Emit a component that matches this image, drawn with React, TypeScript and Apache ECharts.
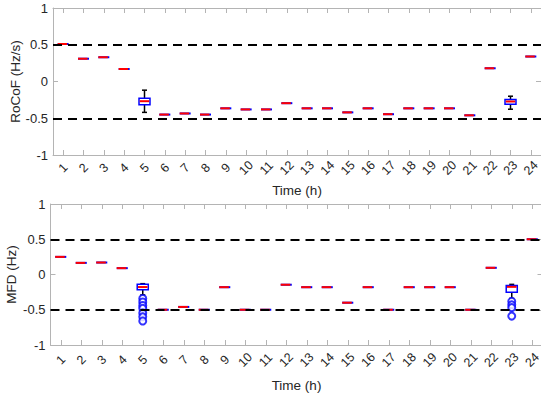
import React, { useEffect, useRef } from "react";
import * as echarts from "echarts";

const hours = ["1","2","3","4","5","6","7","8","9","10","11","12","13","14","15","16","17","18","19","20","21","22","23","24"];
const yTicks = [-1, -0.5, 0, 0.5, 1];
const limitLines = [0.5, -0.5];

// RoCoF (Hz/s) box statistics per hour
const rocofLow    = [0.51, 0.31, 0.33, 0.17, -0.42,  -0.45, -0.435, -0.45, -0.365, -0.38, -0.38, -0.295, -0.365, -0.365, -0.42, -0.365, -0.445, -0.365, -0.365, -0.365, -0.46, 0.18, -0.377, 0.34];
const rocofQ1     = [0.51, 0.31, 0.33, 0.17, -0.317, -0.45, -0.435, -0.45, -0.365, -0.38, -0.38, -0.295, -0.365, -0.365, -0.42, -0.365, -0.445, -0.365, -0.365, -0.365, -0.46, 0.18, -0.31, 0.34];
const rocofMedian = [0.51, 0.31, 0.33, 0.17, -0.268, -0.45, -0.435, -0.45, -0.365, -0.38, -0.38, -0.295, -0.365, -0.365, -0.42, -0.365, -0.445, -0.365, -0.365, -0.365, -0.46, 0.18, -0.272, 0.34];
const rocofQ3     = [0.51, 0.31, 0.33, 0.17, -0.227, -0.45, -0.435, -0.45, -0.365, -0.38, -0.38, -0.295, -0.365, -0.365, -0.42, -0.365, -0.445, -0.365, -0.365, -0.365, -0.46, 0.18, -0.245, 0.34];
const rocofHigh   = [0.51, 0.31, 0.33, 0.17, -0.118, -0.45, -0.435, -0.45, -0.365, -0.38, -0.38, -0.295, -0.365, -0.365, -0.42, -0.365, -0.445, -0.365, -0.365, -0.365, -0.46, 0.18, -0.2, 0.34];

// MFD (Hz) box statistics per hour
const mfdLow    = [0.25, 0.165, 0.17, 0.09, -0.29,  -0.5, -0.46, -0.5, -0.18, -0.5, -0.5, -0.145, -0.18, -0.18, -0.4, -0.18, -0.5, -0.18, -0.18, -0.18, -0.5, 0.095, -0.34, 0.5];
const mfdQ1     = [0.25, 0.165, 0.17, 0.09, -0.215, -0.5, -0.46, -0.5, -0.18, -0.5, -0.5, -0.145, -0.18, -0.18, -0.4, -0.18, -0.5, -0.18, -0.18, -0.18, -0.5, 0.095, -0.25, 0.5];
const mfdMedian = [0.25, 0.165, 0.17, 0.09, -0.178, -0.5, -0.46, -0.5, -0.18, -0.5, -0.5, -0.145, -0.18, -0.18, -0.4, -0.18, -0.5, -0.18, -0.18, -0.18, -0.5, 0.095, -0.175, 0.5];
const mfdQ3     = [0.25, 0.165, 0.17, 0.09, -0.14,  -0.5, -0.46, -0.5, -0.18, -0.5, -0.5, -0.145, -0.18, -0.18, -0.4, -0.18, -0.5, -0.18, -0.18, -0.18, -0.5, 0.095, -0.155, 0.5];
const mfdHigh   = [0.25, 0.165, 0.17, 0.09, -0.13,  -0.5, -0.46, -0.5, -0.18, -0.5, -0.5, -0.145, -0.18, -0.18, -0.4, -0.18, -0.5, -0.18, -0.18, -0.18, -0.5, 0.095, -0.14, 0.5];

const mfdOutlierHours  = [5, 5, 5, 5, 5, 5, 5, 23, 23, 23, 23];
const mfdOutlierValues = [-0.34, -0.39, -0.44, -0.48, -0.545, -0.6, -0.66, -0.38, -0.43, -0.47, -0.59];

const GRAY = "#b4b4b4";
const DARK = "#262626";
const FONT = "'Liberation Sans', Arial, Helvetica, sans-serif";

function boxData(lo: number[], q1: number[], md: number[], q3: number[], hi: number[]) {
  return hours.map((_, i) => [i, lo[i], q1[i], md[i], q3[i], hi[i]]);
}

function renderBox(params: any, api: any) {
  const i = api.value(0);
  const vLo = api.value(1), vQ1 = api.value(2), vMd = api.value(3), vQ3 = api.value(4), vHi = api.value(5);
  const lo = api.coord([i, vLo]);
  const q1 = api.coord([i, vQ1]);
  const md = api.coord([i, vMd]);
  const q3 = api.coord([i, vQ3]);
  const hi = api.coord([i, vHi]);
  const band = api.size([1, 0])[0];
  const hw = band * 0.27;
  const cap = 2.5;
  const cx = md[0];
  const children: any[] = [];
  if (vQ1 === vQ3) {
    children.push({ type: "line", shape: { x1: cx - hw, y1: md[1], x2: cx + hw, y2: md[1] }, style: { stroke: "#0000ff", lineWidth: 2 } });
    children.push({ type: "line", shape: { x1: cx - hw, y1: md[1], x2: cx + hw - 1.5, y2: md[1] }, style: { stroke: "#ff0000", lineWidth: 2 } });
  } else {
    if (vHi > vQ3) {
      children.push({ type: "line", shape: { x1: cx, y1: q3[1], x2: cx, y2: hi[1] }, style: { stroke: "#000", lineWidth: 1.5 } });
      children.push({ type: "line", shape: { x1: cx - cap, y1: hi[1], x2: cx + cap, y2: hi[1] }, style: { stroke: "#000", lineWidth: 1.5 } });
    }
    if (vLo < vQ1) {
      children.push({ type: "line", shape: { x1: cx, y1: q1[1], x2: cx, y2: lo[1] }, style: { stroke: "#000", lineWidth: 1.5 } });
      children.push({ type: "line", shape: { x1: cx - cap, y1: lo[1], x2: cx + cap, y2: lo[1] }, style: { stroke: "#000", lineWidth: 1.5 } });
    }
    children.push({ type: "rect", shape: { x: cx - hw, y: q3[1], width: 2 * hw, height: q1[1] - q3[1] }, style: { fill: "none", stroke: "#0000ff", lineWidth: 1.5 } });
    children.push({ type: "line", shape: { x1: cx - hw + 0.75, y1: md[1], x2: cx + hw - 0.75, y2: md[1] }, style: { stroke: "#ff0000", lineWidth: 2 } });
  }
  return { type: "group", children };
}

function xAxes(grid: number, labelMargin: number, nameGap: number) {
  return [
    {
      gridIndex: grid, type: "category", data: hours, position: "bottom",
      axisLine: { show: true, onZero: false, lineStyle: { color: GRAY, width: 1 } },
      axisTick: { show: true, inside: true, alignWithLabel: true, length: 5, lineStyle: { color: GRAY } },
      axisLabel: { rotate: 45, align: "center", verticalAlign: "middle", margin: labelMargin, color: DARK, fontSize: 12.5, fontFamily: FONT, interval: 0 },
      splitLine: { show: false },
      name: "Time (h)", nameLocation: "middle", nameGap, nameMoveOverlap: false,
      nameTextStyle: { color: DARK, fontSize: 13.5, fontFamily: FONT },
    },
    {
      gridIndex: grid, type: "category", data: hours, position: "top",
      axisLine: { show: true, onZero: false, lineStyle: { color: GRAY, width: 1 } },
      axisTick: { show: true, inside: true, alignWithLabel: true, length: 5, lineStyle: { color: GRAY } },
      axisLabel: { show: false },
      splitLine: { show: false },
    },
  ];
}

function yAxes(grid: number, name: string, nameGap: number) {
  return [
    {
      gridIndex: grid, type: "value", min: yTicks[0], max: yTicks[yTicks.length - 1], interval: 0.5, position: "left",
      axisLine: { show: true, onZero: false, lineStyle: { color: GRAY, width: 1 } },
      axisTick: { show: true, inside: true, length: 5, lineStyle: { color: GRAY } },
      axisLabel: { color: DARK, fontSize: 13, fontFamily: FONT, margin: 5, formatter: (v: number) => String(v) },
      splitLine: { show: false },
      name, nameLocation: "middle", nameRotate: 90, nameGap, nameMoveOverlap: false,
      nameTextStyle: { color: DARK, fontSize: 13.5, fontFamily: FONT },
    },
    {
      gridIndex: grid, type: "value", min: yTicks[0], max: yTicks[yTicks.length - 1], interval: 0.5, position: "right",
      axisLine: { show: true, onZero: false, lineStyle: { color: GRAY, width: 1 } },
      axisTick: { show: true, inside: true, length: 5, lineStyle: { color: GRAY } },
      axisLabel: { show: false },
      splitLine: { show: false },
    },
  ];
}

function limitSeries(axisIndex: number) {
  return {
    type: "line", xAxisIndex: axisIndex, yAxisIndex: axisIndex, data: [], z: 3, silent: true,
    markLine: {
      silent: true, symbol: "none", label: { show: false }, animation: false,
      lineStyle: { color: "#000", width: 2, type: [9, 6] },
      data: limitLines.map((v) => ({ yAxis: v })),
    },
  };
}

export default function App() {
  const ref = useRef<HTMLDivElement>(null);
  useEffect(() => {
    if (!ref.current) return;
    const chart = echarts.init(ref.current, null, { renderer: "svg" });
    chart.setOption({
      animation: false,
      backgroundColor: "#fff",
      textStyle: { fontFamily: FONT },
      grid: [
        { left: 53, top: 8, width: 488, height: 147, containLabel: false, outerBoundsMode: "none" },
        { left: 50.5, top: 204, width: 492, height: 141, containLabel: false, outerBoundsMode: "none" },
      ],
      xAxis: [...xAxes(0, 13, 28), ...xAxes(1, 15, 33)],
      yAxis: [...yAxes(0, "RoCoF (Hz/s)", 31), ...yAxes(1, "MFD (Hz)", 32)],
      series: [
        {
          type: "custom", xAxisIndex: 0, yAxisIndex: 0, z: 2,
          renderItem: renderBox,
          encode: { x: 0, y: [1, 2, 3, 4, 5] },
          data: boxData(rocofLow, rocofQ1, rocofMedian, rocofQ3, rocofHigh),
        },
        limitSeries(0),
        {
          type: "custom", xAxisIndex: 2, yAxisIndex: 2, z: 2,
          renderItem: renderBox,
          encode: { x: 0, y: [1, 2, 3, 4, 5] },
          data: boxData(mfdLow, mfdQ1, mfdMedian, mfdQ3, mfdHigh),
        },
        limitSeries(2),
        {
          type: "scatter", xAxisIndex: 2, yAxisIndex: 2, z: 4,
          symbol: "emptyCircle", symbolSize: 7,
          itemStyle: { color: "#0000ff", borderColor: "#0000ff", borderWidth: 1.3 },
          data: mfdOutlierHours.map((h, k) => [h - 1, mfdOutlierValues[k]]),
        },
      ],
    });
    return () => chart.dispose();
  }, []);
  return <div ref={ref} style={{ position: "absolute", left: 0, top: 0, width: 541, height: 393 }} />;
}
